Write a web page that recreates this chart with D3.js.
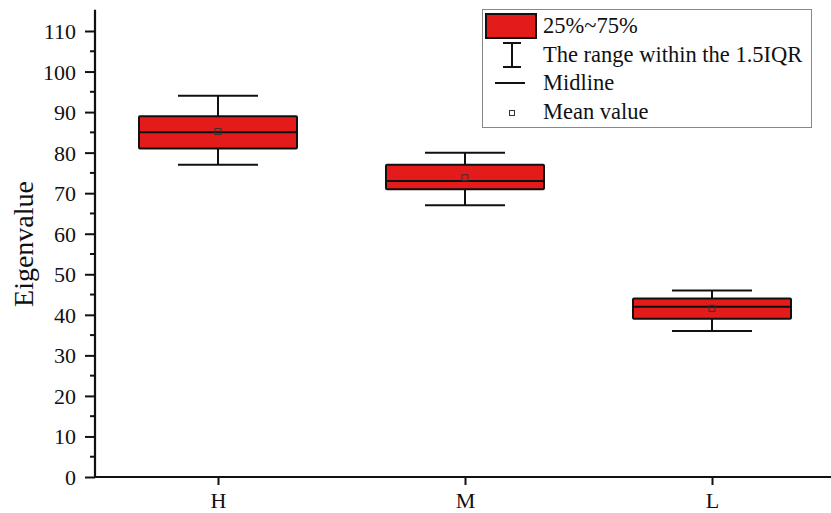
<!DOCTYPE html>
<html><head><meta charset="utf-8">
<script src="https://cdn.jsdelivr.net/npm/d3@7"></script>
<style>body{margin:0;background:#fff}svg{display:block}text{font-family:"Liberation Serif","Times New Roman",serif;fill:#111}</style>
</head><body><svg id="c" width="831" height="513"></svg>
<script>
const categories = ["H","M","L"];
const whiskerLow  = [77, 67, 36];
const q1          = [81, 71, 39];
const median      = [85, 73, 42];
const q3          = [89, 77, 44];
const whiskerHigh = [94, 80, 46];
const meanValues  = [85.2, 73.8, 41.6];
const yTicks = [0,10,20,30,40,50,60,70,80,90,100,110];
const legendLabels = ["25%~75%","The range within the 1.5IQR","Midline","Mean value"];

const svg = d3.select("#c");
const mLeft = 95, mRight = 831, mBottom = 477;
const y = d3.scaleLinear().domain([0,110]).range([477,31]);
const x = d3.scalePoint().domain(categories).range([218, 712]);
const bandW = 158, capW = 80;
const red = "#e31b1b";

// y axis
const yAxis = d3.axisLeft(y).tickValues(yTicks).tickSize(10).tickSizeOuter(0).tickPadding(9);
const gy = svg.append("g").attr("transform",`translate(${mLeft},0)`).call(yAxis)
  .attr("font-family",null).attr("font-size",null);
gy.select(".domain").remove();
gy.selectAll("line").attr("stroke","#111").attr("stroke-width",2);
gy.selectAll("text").style("font-size","22px").attr("dy","0.34em");
const minor = d3.range(5, 115, 10);
svg.append("g").selectAll("line").data(minor).join("line")
  .attr("x1",mLeft-5).attr("x2",mLeft).attr("y1",d=>y(d)).attr("y2",d=>y(d))
  .attr("stroke","#111").attr("stroke-width",2);
svg.append("line").attr("x1",mLeft).attr("x2",mLeft).attr("y1",y(115)-1).attr("y2",mBottom+1)
  .attr("stroke","#111").attr("stroke-width",2.2);

// x axis
const xAxis = d3.axisBottom(x).tickSize(8).tickSizeOuter(0).tickPadding(7);
const gx = svg.append("g").attr("transform",`translate(0,${mBottom})`).call(xAxis)
  .attr("font-family",null).attr("font-size",null);
gx.select(".domain").remove();
gx.selectAll("line").attr("stroke","#111").attr("stroke-width",2);
gx.selectAll("text").style("font-size","22px");
svg.append("line").attr("x1",mLeft-1).attr("x2",mRight).attr("y1",mBottom).attr("y2",mBottom)
  .attr("stroke","#111").attr("stroke-width",2.2);

// axis title
svg.append("text").attr("transform","translate(33,244) rotate(-90)").attr("text-anchor","middle")
  .style("font-size","28px").text("Eigenvalue");

// boxes
const data = categories.map((c,i)=>({c,lo:whiskerLow[i],q1:q1[i],med:median[i],q3:q3[i],hi:whiskerHigh[i],mean:meanValues[i]}));
const g = svg.append("g").selectAll("g").data(data).join("g");
g.append("line").attr("x1",d=>x(d.c)).attr("x2",d=>x(d.c)).attr("y1",d=>y(d.hi)).attr("y2",d=>y(d.q3)).attr("stroke","#111").attr("stroke-width",2);
g.append("line").attr("x1",d=>x(d.c)).attr("x2",d=>x(d.c)).attr("y1",d=>y(d.q1)).attr("y2",d=>y(d.lo)).attr("stroke","#111").attr("stroke-width",2);
g.append("line").attr("x1",d=>x(d.c)-capW/2).attr("x2",d=>x(d.c)+capW/2).attr("y1",d=>y(d.hi)).attr("y2",d=>y(d.hi)).attr("stroke","#111").attr("stroke-width",2);
g.append("line").attr("x1",d=>x(d.c)-capW/2).attr("x2",d=>x(d.c)+capW/2).attr("y1",d=>y(d.lo)).attr("y2",d=>y(d.lo)).attr("stroke","#111").attr("stroke-width",2);
g.append("rect").attr("x",d=>x(d.c)-bandW/2).attr("width",bandW).attr("y",d=>y(d.q3)).attr("height",d=>y(d.q1)-y(d.q3))
  .attr("fill",red).attr("stroke","#111").attr("stroke-width",2).attr("rx",1);
g.append("line").attr("x1",d=>x(d.c)-bandW/2).attr("x2",d=>x(d.c)+bandW/2).attr("y1",d=>y(d.med)).attr("y2",d=>y(d.med)).attr("stroke","#111").attr("stroke-width",2);
g.append("rect").attr("x",d=>x(d.c)-3).attr("y",d=>y(d.mean)-3).attr("width",6).attr("height",6)
  .attr("fill","none").attr("stroke","#333").attr("stroke-width",1);

// legend
const lg = svg.append("g");
lg.append("rect").attr("x",482.5).attr("y",9.5).attr("width",329).attr("height",118).attr("fill","#fff").attr("stroke","#888").attr("stroke-width",1);
lg.append("rect").attr("x",486).attr("y",14).attr("width",50).attr("height",24).attr("fill",red).attr("stroke","#111").attr("stroke-width",2);
lg.append("line").attr("x1",512).attr("x2",512).attr("y1",43).attr("y2",67).attr("stroke","#111").attr("stroke-width",2);
lg.append("line").attr("x1",503).attr("x2",521).attr("y1",43).attr("y2",43).attr("stroke","#111").attr("stroke-width",2);
lg.append("line").attr("x1",503).attr("x2",521).attr("y1",67).attr("y2",67).attr("stroke","#111").attr("stroke-width",2);
lg.append("line").attr("x1",495).attr("x2",525).attr("y1",83).attr("y2",83).attr("stroke","#111").attr("stroke-width",2);
lg.append("rect").attr("x",509.5).attr("y",110.5).attr("width",5).attr("height",5).attr("fill","none").attr("stroke","#333").attr("stroke-width",1);
const rowY = [33, 62, 90, 119];
lg.selectAll("text.l").data(legendLabels).join("text").attr("class","l")
  .attr("x",543).attr("y",(d,i)=>rowY[i]).style("font-size","22.5px").text(d=>d);
</script></body></html>
